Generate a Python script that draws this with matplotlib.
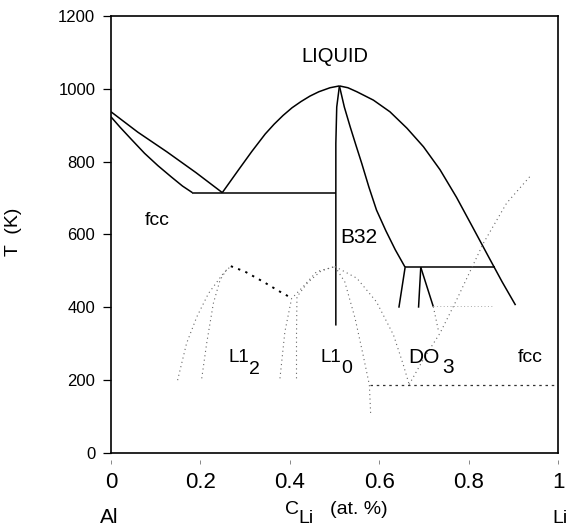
import matplotlib
matplotlib.use("Agg")
import matplotlib.pyplot as plt

plt.rcParams['font.family'] = ['Liberation Sans', 'DejaVu Sans']

# ---------------- data (composition x_Li, temperature K) ----------------
liq_left_x = [0.0, 0.06, 0.125, 0.19, 0.249]
liq_left_T = [937, 881, 827, 770, 715]

sol_left_x = [0.0, 0.02, 0.045, 0.075, 0.105, 0.135, 0.16, 0.182]
sol_left_T = [923, 895, 862, 823, 789, 758, 733, 715]

eut_x = [0.182, 0.503]
eut_T = [715, 715]

liq_mid_x = [0.249, 0.285, 0.315, 0.345, 0.365, 0.385, 0.405, 0.425, 0.445, 0.465, 0.49, 0.511]
liq_mid_T = [715, 777, 828, 876, 903, 927, 948, 965, 980, 992, 1003, 1008]

liq_right_x = [0.511, 0.53, 0.55, 0.587, 0.624, 0.662, 0.699, 0.736, 0.773, 0.81, 0.845, 0.875, 0.905]
liq_right_T = [1008, 1003, 992, 969, 937, 892, 841, 778, 702, 618, 538, 470, 406]

b32_left_x = [0.511, 0.505, 0.503, 0.503]
b32_left_T = [1008, 950, 850, 350]

b32_right_x = [0.511, 0.522, 0.535, 0.548, 0.561, 0.577, 0.594, 0.615, 0.636, 0.658]
b32_right_T = [1008, 950, 896, 845, 795, 730, 667, 610, 558, 510]

perit_x = [0.658, 0.859]
perit_T = [510, 510]

seg1_x = [0.658, 0.644]
seg1_T = [510, 399]
seg2_x = [0.693, 0.688]
seg2_T = [510, 399]
seg3_x = [0.693, 0.721]
seg3_T = [510, 402]

# metastable (dotted) lines
l12_outer_x = [0.149, 0.169, 0.192, 0.218, 0.251, 0.268]
l12_outer_T = [200, 301, 374, 438, 493, 513]
l12_inner_x = [0.203, 0.214, 0.229, 0.244, 0.262]
l12_inner_T = [205, 301, 411, 475, 510]
l12_top_x = [0.268, 0.300, 0.341, 0.378, 0.406]
l12_top_T = [513, 498, 470, 443, 424]

l10_a_x = [0.378, 0.389, 0.404, 0.430, 0.460, 0.501]
l10_a_T = [205, 333, 424, 457, 498, 512]
l10_b_x = [0.415, 0.415, 0.416, 0.440, 0.470, 0.501]
l10_b_T = [205, 324, 429, 468, 500, 512]
l10_r_x = [0.501, 0.523, 0.546, 0.564, 0.578, 0.581]
l10_r_T = [512, 470, 370, 269, 187, 104]

do3_left_x = [0.501, 0.550, 0.594, 0.632, 0.654, 0.667]
do3_left_T = [512, 480, 415, 324, 242, 188]
do3_right_x = [0.667, 0.70, 0.736, 0.773, 0.833, 0.885, 0.937]
do3_right_T = [188, 260, 329, 420, 576, 686, 759]

dash_low_x = [0.579, 1.0]
dash_low_T = [187, 187]
dot_mid_x = [0.721, 0.855]
dot_mid_T = [403, 403]
dot_short_x = [0.721, 0.733]
dot_short_T = [402, 333]

x_ticks = [0, 0.2, 0.4, 0.6, 0.8, 1]
x_ticklabels = ['0', '0.2', '0.4', '0.6', '0.8', '1']
y_ticks = [0, 200, 400, 600, 800, 1000, 1200]

# ---------------- figure ----------------
W, H = 568, 529
fig = plt.figure(figsize=(W / 100, H / 100), dpi=100)
ax = fig.add_axes([111 / W, 1 - 453 / H, 447 / W, 437 / H])

solid = dict(color='black', lw=1.1, solid_capstyle='butt', solid_joinstyle='round')
for xs, ts in [(liq_left_x, liq_left_T), (sol_left_x, sol_left_T), (eut_x, eut_T),
               (liq_mid_x, liq_mid_T), (liq_right_x, liq_right_T),
               (b32_left_x, b32_left_T), (b32_right_x, b32_right_T),
               (perit_x, perit_T), (seg1_x, seg1_T), (seg2_x, seg2_T), (seg3_x, seg3_T)]:
    ax.plot(xs, ts, **solid)

dotted = dict(color='#666666', lw=0.8, linestyle=(0, (1, 3)))
for xs, ts in [(l12_outer_x, l12_outer_T), (l12_inner_x, l12_inner_T),
               (l10_a_x, l10_a_T), (l10_b_x, l10_b_T), (l10_r_x, l10_r_T),
               (do3_left_x, do3_left_T), (do3_right_x, do3_right_T),
               (dot_short_x, dot_short_T)]:
    ax.plot(xs, ts, **dotted)
ax.plot(dot_mid_x, dot_mid_T, color='#aaaaaa', lw=0.7, linestyle=(0, (1, 2.5)))
ax.plot(l12_top_x, l12_top_T, color='black', lw=1.4, linestyle=(0, (1.2, 2.8)))
ax.plot(dash_low_x, dash_low_T, color='#333333', lw=0.9, linestyle=(0, (2, 3)))

ax.set_xlim(0, 1)
ax.set_ylim(0, 1200)

for s in ax.spines.values():
    s.set_linewidth(1.2)

ax.set_yticks(y_ticks)
ax.tick_params(axis='y', direction='out', length=5.8, width=0.9, pad=5.5, labelsize=12)
ax.tick_params(axis='x', bottom=False, labelbottom=False)

sec = ax.secondary_xaxis(-0.016)
sec.spines['bottom'].set_visible(False)
sec.set_xticks(x_ticks)
sec.set_xticklabels(x_ticklabels)
sec.tick_params(direction='out', length=3, width=0.7, colors='#888888', labelcolor='black',
                labelsize=16, pad=6)

ax.set_ylabel('T  (K)', fontsize=14)
ax.yaxis.set_label_coords(-0.199, 0.506)

# region labels
ax.text(0.501, 1074, 'LIQUID', fontsize=14.5, ha='center', va='baseline')
ax.text(0.103, 626, 'fcc', fontsize=14, ha='center', va='baseline')
ax.text(0.512, 577, 'B32', fontsize=15, ha='left', va='baseline')
ax.text(0.262, 250, 'L1', fontsize=13.5, ha='left', va='baseline')
ax.text(0.309, 217, '2', fontsize=14, ha='left', va='baseline')
ax.text(0.469, 249, 'L1', fontsize=13.5, ha='left', va='baseline')
ax.text(0.516, 220, '0', fontsize=14, ha='left', va='baseline')
ax.text(0.664, 247, 'DO', fontsize=15, ha='left', va='baseline')
ax.text(0.742, 220, '3', fontsize=15, ha='left', va='baseline')
ax.text(0.937, 250, 'fcc', fontsize=14, ha='center', va='baseline')

# axis annotations
fig.text(109 / W, 1 - 523 / H, 'Al', fontsize=15, ha='center', va='baseline')
fig.text(560 / W, 1 - 523 / H, 'Li', fontsize=14, ha='center', va='baseline')
fig.text(285 / W, 1 - 514 / H, 'C', fontsize=14, ha='left', va='baseline')
fig.text(298 / W, 1 - 523 / H, 'Li', fontsize=14, ha='left', va='baseline')
fig.text(330 / W, 1 - 514 / H, '(at. %)', fontsize=14, ha='left', va='baseline')

fig.savefig('out.png', dpi=100)
